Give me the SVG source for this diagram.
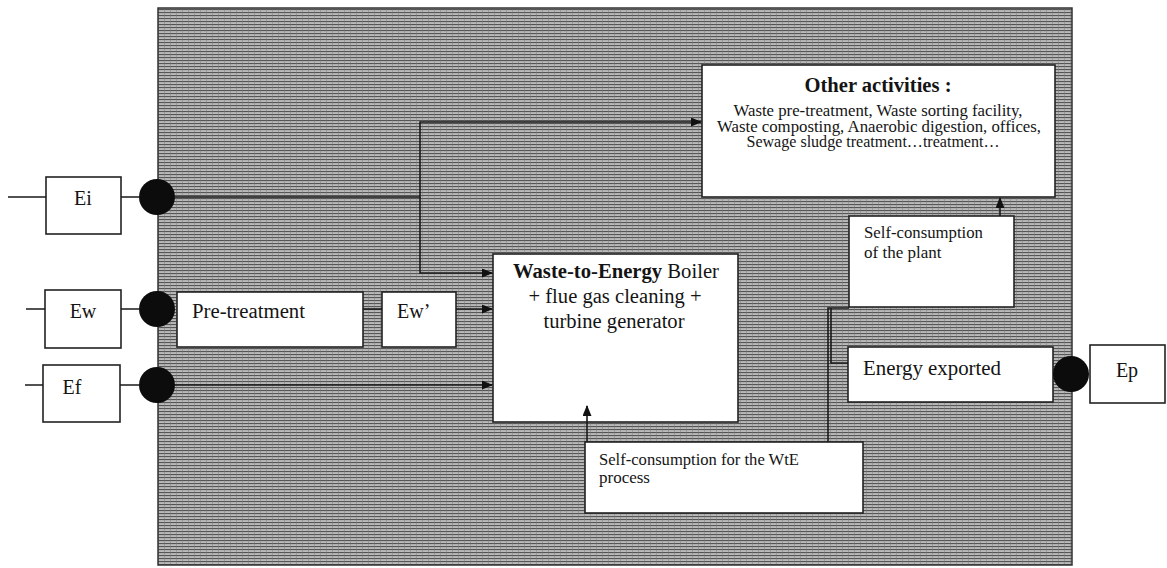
<svg xmlns="http://www.w3.org/2000/svg" width="1167" height="568" viewBox="0 0 1167 568">
<defs>
<pattern id="scan" width="6" height="3" patternUnits="userSpaceOnUse">
<rect width="6" height="3" fill="#bababa"/>
<rect y="0" width="6" height="1.1" fill="#555"/>
<rect x="2" y="0" width="1" height="3" fill="#777" opacity="0.45"/>
</pattern>
<marker id="arr" markerWidth="11" markerHeight="9" refX="10" refY="4.5" orient="auto" markerUnits="userSpaceOnUse">
<path d="M0,0 L11,4.5 L0,9 z" fill="#111"/>
</marker>
<style>
.box{fill:#fff;stroke:#222;stroke-width:1.6}
.t{font-family:"Liberation Serif","Times New Roman",serif;fill:#141414}
.c{stroke:#1a1a1a;stroke-width:1.6;fill:none}
.dot{fill:#0c0c0c}
</style>
</defs>
<rect x="158" y="8" width="914" height="557" fill="url(#scan)" stroke="#333" stroke-width="1.5"/>

<g id="Ei">
<rect class="box" x="46" y="177" width="75" height="57"/>
<text class="t" x="83" y="205" font-size="20" text-anchor="middle">Ei</text>
<circle class="dot" cx="157" cy="197" r="18"/>
</g>
<g id="Ew">
<rect class="box" x="45" y="290" width="76" height="58"/>
<text class="t" x="83" y="318" font-size="20" text-anchor="middle">Ew</text>
<circle class="dot" cx="157" cy="309" r="18"/>
</g>
<g id="Ef">
<rect class="box" x="43" y="365" width="77" height="57"/>
<text class="t" x="72" y="394" font-size="20" text-anchor="middle">Ef</text>
<circle class="dot" cx="157" cy="385" r="18"/>
</g>
<g id="pretreatment">
<rect class="box" x="177" y="292" width="186" height="55"/>
<text class="t" x="192" y="318" font-size="20" textLength="113" lengthAdjust="spacingAndGlyphs">Pre-treatment</text>
</g>
<g id="Ewprime">
<rect class="box" x="382" y="292" width="74" height="55"/>
<text class="t" x="397" y="318" font-size="20">Ew’</text>
</g>
<g id="wte">
<rect class="box" x="493" y="254" width="245" height="168"/>
<text class="t" x="616" y="278" font-size="20" text-anchor="middle" textLength="206" lengthAdjust="spacingAndGlyphs"><tspan font-weight="bold">Waste-to-Energy</tspan> Boiler</text>
<text class="t" x="615" y="303" font-size="20" text-anchor="middle" textLength="173" lengthAdjust="spacingAndGlyphs">+ flue gas cleaning +</text>
<text class="t" x="614" y="328" font-size="20" text-anchor="middle" textLength="141" lengthAdjust="spacingAndGlyphs">turbine generator</text>
</g>
<g id="other">
<rect class="box" x="702" y="65" width="353" height="132"/>
<text class="t" x="878" y="92" font-size="20" font-weight="bold" text-anchor="middle" textLength="147" lengthAdjust="spacingAndGlyphs">Other activities :</text>
<text class="t" x="878" y="116" font-size="16" text-anchor="middle" textLength="289" lengthAdjust="spacingAndGlyphs">Waste pre-treatment, Waste sorting facility,</text>
<text class="t" x="879" y="131.5" font-size="16" text-anchor="middle" textLength="324" lengthAdjust="spacingAndGlyphs">Waste composting, Anaerobic digestion, offices,</text>
<text class="t" x="873" y="147" font-size="16" text-anchor="middle" textLength="253" lengthAdjust="spacingAndGlyphs">Sewage sludge treatment…treatment…</text>
</g>
<g id="selfplant">
<rect class="box" x="849" y="216" width="165" height="91"/>
<text class="t" x="864" y="238" font-size="17" textLength="119" lengthAdjust="spacingAndGlyphs">Self-consumption</text>
<text class="t" x="864" y="258" font-size="17">of the plant</text>
</g>
<g id="selfwte">
<rect class="box" x="585" y="442" width="278" height="71"/>
<text class="t" x="599" y="465" font-size="17" textLength="200" lengthAdjust="spacingAndGlyphs">Self-consumption for the WtE</text>
<text class="t" x="599" y="483" font-size="17">process</text>
</g>
<g id="exported">
<rect class="box" x="848" y="347" width="205" height="55"/>
<text class="t" x="863" y="375" font-size="20" textLength="138" lengthAdjust="spacingAndGlyphs">Energy exported</text>
</g>
<g id="Ep">
<circle class="dot" cx="1071" cy="374" r="18"/>
<rect class="box" x="1090" y="345" width="75" height="58"/>
<text class="t" x="1127" y="377" font-size="20" text-anchor="middle">Ep</text>
</g>

<g id="connectors">
<path class="c" d="M8 197 H46 M121 197 H140"/>
<path class="c" d="M26 309 H45 M121 309 H140"/>
<path class="c" d="M25 385 H43 M120 385 H140"/>
<path class="c" d="M175 197 H420 V122 H701" marker-end="url(#arr)"/>
<path class="c" d="M420 197 V273 H492" marker-end="url(#arr)"/>
<path class="c" d="M363 309 H382"/>
<path class="c" d="M456 309 H492" marker-end="url(#arr)"/>
<path class="c" d="M175 385 H492" marker-end="url(#arr)"/>
<path class="c" d="M587 442 V406" marker-end="url(#arr)"/>
<path class="c" d="M1000 216 V198" marker-end="url(#arr)"/>
<path class="c" d="M828 442 V308 H849"/>
<path class="c" d="M831 308 V363 H848"/>
</g>
</svg>
